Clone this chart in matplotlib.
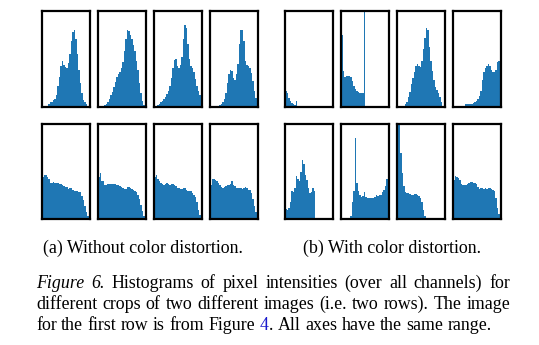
import matplotlib
matplotlib.use('Agg')
import matplotlib.pyplot as plt
import numpy as np

# ---------------- data (relative bin heights, 32 bins over 0..255) ----------------
no_distort_row1 = [
    [0, 0, 0, 0, 3, 5, 5, 7, 8, 12, 22, 31, 42, 48, 44, 41, 40, 46, 55, 68, 78, 80, 70, 55, 38, 25, 15, 7, 5, 3, 1, 0],
    [0, 0, 0, 1, 2, 3, 5, 8, 12, 16, 21, 26, 31, 34, 36, 40, 47, 58, 70, 80, 79, 75, 70, 64, 58, 48, 38, 25, 14, 6, 2, 0],
    [0, 1, 2, 3, 5, 6, 8, 10, 13, 17, 22, 30, 40, 49, 50, 42, 40, 44, 52, 70, 85, 82, 65, 50, 43, 40, 36, 29, 22, 17, 12, 0],
    [0, 0, 0, 1, 1, 1, 2, 3, 5, 8, 14, 25, 34, 38, 37, 30, 28, 34, 45, 65, 80, 80, 68, 48, 44, 43, 40, 35, 27, 17, 9, 5],
]
no_distort_row2 = [
    [44, 46, 46, 44, 42, 38, 38, 39, 38, 38, 38, 37, 37, 36, 35, 34, 34, 32, 33, 33, 31, 30, 29, 29, 28, 28, 24, 20, 14, 7, 3, 1],
    [44, 48, 40, 40, 36, 36, 37, 37, 37, 37, 37, 37, 36, 36, 35, 34, 33, 32, 32, 34, 34, 33, 32, 31, 30, 28, 25, 21, 15, 8, 3, 1],
    [44, 46, 42, 40, 38, 37, 36, 37, 38, 37, 36, 37, 37, 36, 35, 33, 33, 32, 32, 33, 33, 31, 30, 30, 29, 27, 25, 23, 18, 10, 4, 1],
    [36, 42, 42, 41, 40, 38, 36, 34, 33, 34, 35, 36, 36, 37, 40, 36, 35, 33, 33, 33, 33, 32, 33, 34, 33, 31, 31, 27, 21, 14, 7, 2],
]
distort_row1 = [
    [17, 14, 9, 6, 4, 3, 2, 6, 0, 0, 0, 0, 0, 0, 0, 0, 0, 0, 0, 0, 0, 0, 0, 0, 0, 0, 0, 0, 0, 0, 0, 0],
    [75, 37, 31, 32, 32, 32, 31, 27, 22, 19, 17, 16, 15, 14, 14, 99, 0, 0, 0, 0, 0, 0, 0, 0, 0, 0, 0, 0, 0, 0, 0, 0],
    [0, 0, 0, 0, 1, 3, 5, 10, 16, 24, 30, 36, 42, 45, 42, 41, 48, 60, 72, 82, 80, 62, 48, 37, 28, 21, 18, 15, 10, 5, 1, 0],
    [0, 0, 0, 0, 0, 0, 0, 0, 3, 3, 3, 3, 3, 4, 5, 6, 8, 11, 17, 28, 36, 40, 43, 45, 42, 38, 36, 36, 38, 47, 48, 52],
]
distort_row2 = [
    [11, 9, 12, 18, 30, 28, 33, 45, 42, 40, 50, 62, 58, 46, 41, 33, 27, 28, 33, 30, 0, 0, 0, 0, 0, 0, 0, 0, 0, 0, 0, 0],
    [0, 0, 0, 0, 0, 0, 3, 18, 29, 85, 38, 29, 25, 23, 24, 28, 23, 22, 22, 22, 22, 22, 23, 25, 24, 25, 25, 28, 31, 35, 42, 58],
    [100, 100, 70, 48, 35, 28, 27, 27, 26, 25, 25, 26, 26, 25, 24, 22, 18, 10, 3, 0, 0, 0, 0, 0, 0, 0, 0, 0, 0, 0, 0, 0],
    [41, 45, 44, 43, 41, 37, 36, 36, 36, 37, 38, 39, 39, 38, 38, 37, 34, 32, 33, 33, 32, 33, 32, 33, 33, 32, 31, 30, 22, 12, 5, 2],
]

sub_captions = ["(a) Without color distortion.", "(b) With color distortion."]
caption_lines = [
    [[("Figure", "italic", "k")], [("6.", "italic", "k")], [("Histograms", "normal", "k")], [("of", "normal", "k")],
     [("pixel", "normal", "k")], [("intensities", "normal", "k")], [("(over", "normal", "k")], [("all", "normal", "k")],
     [("channels)", "normal", "k")], [("for", "normal", "k")]],
    [[(w, "normal", "k")] for w in "different crops of two different images (i.e. two rows). The image".split()],
    [[(w, "normal", "k")] for w in "for the first row is from Figure".split()]
    + [[("4", "normal", "#1a1acc"), (".", "normal", "k")]]
    + [[(w, "normal", "k")] for w in "All axes have the same range.".split()],
]

# ---------------- figure ----------------
W, H = 539, 345
fig = plt.figure(figsize=(W / 100, H / 100), dpi=100)

bins = np.linspace(0, 256, 33)
centers = (bins[:-1] + bins[1:]) / 2
bar_color = '#1f77b4'

left_cols = [42, 98, 154, 210]
right_cols = [285, 341, 397, 453]
rows = [(10.5, 96.5), (124, 95)]
pw = 48


def add_panel(x, y, w, h, vals):
    ax = fig.add_axes([x / W, 1 - (y + h) / H, w / W, h / H])
    ax.hist(centers, bins=bins, weights=vals, color=bar_color, edgecolor='none')
    ax.set_xlim(0, 256)
    ax.set_ylim(0, 100)
    ax.set_xticks([])
    ax.set_yticks([])
    for s in ax.spines.values():
        s.set_linewidth(1.6)
        s.set_color('black')
    return ax


for cols, r1, r2 in [(left_cols, no_distort_row1, no_distort_row2),
                     (right_cols, distort_row1, distort_row2)]:
    for ri, data in enumerate([r1, r2]):
        y, h = rows[ri]
        for ci, vals in enumerate(data):
            add_panel(cols[ci], y, pw, h, vals)

serif = ['Liberation Serif', 'DejaVu Serif']
fs = 12.9

fig.text(143 / W, 1 - 252.5 / H, sub_captions[0], ha='center', va='baseline', fontsize=fs, family=serif)
fig.text(392 / W, 1 - 252.5 / H, sub_captions[1], ha='center', va='baseline', fontsize=fs, family=serif)

renderer = fig.canvas.get_renderer()


def width_of(s, style):
    t = fig.text(0, 0, s, fontsize=fs, family=serif, style=style)
    w = t.get_window_extent(renderer).width
    t.remove()
    return w


space_w = width_of("x x", "normal") - width_of("xx", "normal")

x_left, x_right = 36, 510
line_base = [287.5, 309, 330.5]
for li, words in enumerate(caption_lines):
    widths = []
    for word in words:
        widths.append(sum(width_of(s, st) for s, st, c in word))
    total = sum(widths)
    if li < len(caption_lines) - 1:
        gap = (x_right - x_left - total) / (len(words) - 1)
    else:
        gap = space_w
    x = x_left
    for word, wd in zip(words, widths):
        xx = x
        for s, st, c in word:
            fig.text(xx / W, 1 - line_base[li] / H, s, fontsize=fs, family=serif, style=st,
                     color=c, ha='left', va='baseline')
            xx += width_of(s, st)
        x += wd + gap

fig.savefig('out.png', dpi=100)
